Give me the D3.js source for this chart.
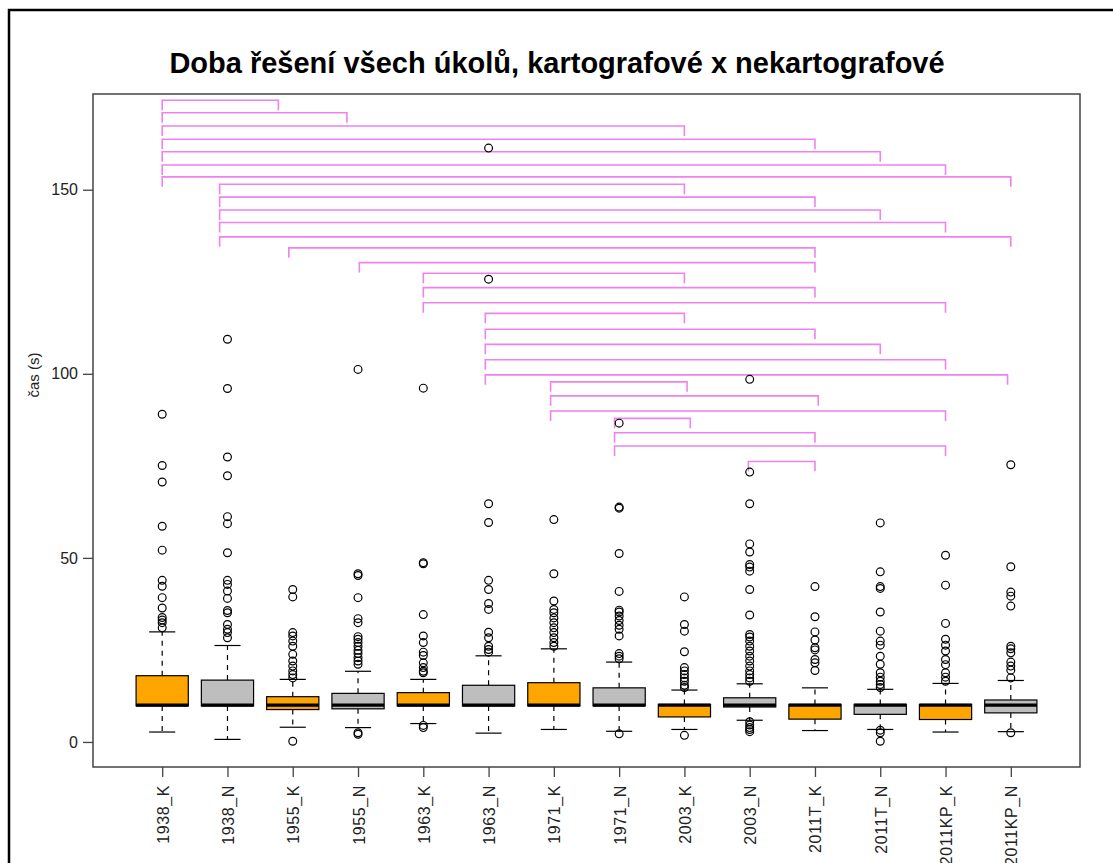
<!DOCTYPE html>
<html>
<head>
<meta charset="utf-8">
<script src="https://cdn.jsdelivr.net/npm/d3@7"></script>
<style>
  body { margin: 0; background: #fff; }
  svg { display: block; }
  text { font-family: "Liberation Sans", Arial, Helvetica, sans-serif; }
</style>
</head>
<body>
<svg id="chart" width="1113" height="863"></svg>
<script>
// Solving time per map (K = cartographers, N = non-cartographers)
const categories = ["1938_K","1938_N","1955_K","1955_N","1963_K","1963_N","1971_K","1971_N",
                    "2003_K","2003_N","2011T_K","2011T_N","2011KP_K","2011KP_N"];
const groupType = ["K","N","K","N","K","N","K","N","K","N","K","N","K","N"];

// five-number summaries (seconds)
const whiskerLow  = [2.7, 0.7, 4.0, 3.9, 5.0, 2.4, 3.4, 2.9, 3.4, 5.9, 3.1, 3.4, 2.7, 2.8];
const quart1      = [9.8, 9.8, 8.8, 9.0, 9.8, 9.8, 9.8, 9.8, 6.8, 9.5, 6.2, 7.5, 6.1, 7.9];
const medians     = [10.0,10.0,10.0,10.0,10.0,10.0,10.0,10.0,10.0,10.0,10.0,10.0,10.0,10.0];
const quart3      = [18.0,16.8,12.3,13.2,13.4,15.4,16.1,14.7,10.2,12.0,10.2,10.2,10.2,11.4];
const whiskerHigh = [29.9,26.2,17.0,19.2,17.0,23.4,25.3,21.7,14.1,15.8,14.7,14.3,15.9,16.7];

// values beyond the whiskers
const outliers = [
  [89.0,75.1,70.6,58.6,52.1,43.9,42.3,39.2,36.4,33.8,33.1,32.4,31.0],
  [109.4,96.0,77.4,72.3,61.2,59.3,51.4,43.9,42.8,41.0,39.0,35.7,35.1,31.9,30.6,29.7,28.3],
  [41.4,39.4,29.7,28.8,27.4,26.0,23.8,22.0,20.6,19.3,18.3,17.4,0.2],
  [101.2,45.7,45.2,39.2,33.5,32.4,28.6,27.9,27.0,26.0,24.9,24.0,22.9,22.0,21.1,2.5,2.1],
  [96.1,48.7,48.4,34.6,28.8,27.0,24.4,23.5,21.5,20.2,19.2,18.8,4.5,3.9],
  [161.3,125.7,64.7,59.6,43.9,41.4,37.6,36.0,29.8,28.3,26.0,25.1,24.4],
  [60.4,45.7,38.3,36.0,35.1,33.7,32.4,31.0,29.7,28.3,27.0,26.0],
  [86.6,63.8,63.5,51.2,40.9,35.8,35.3,34.2,33.0,31.7,30.6,28.8,24.0,23.3,22.6,2.2],
  [39.4,31.9,30.1,24.5,20.2,19.3,18.3,17.4,16.5,15.4,14.8,1.8],
  [98.5,73.3,64.7,53.8,51.6,48.2,47.5,46.4,41.4,34.5,29.2,28.5,27.4,26.0,24.7,23.3,22.0,20.6,19.3,18.3,17.4,16.5,5.5,4.6,3.9,3.4,2.8],
  [42.2,34.0,29.9,27.7,25.6,25.0,22.4,21.5,19.4],
  [59.5,46.2,42.2,41.7,35.3,30.1,27.4,26.3,23.3,21.1,18.8,17.6,16.5,15.6,14.8,3.2,2.5,0.2],
  [50.7,42.6,32.2,27.9,26.3,24.7,22.4,21.0,18.8,17.6,16.5],
  [75.3,47.6,40.7,39.6,36.9,26.0,25.3,24.2,21.7,20.6,19.5,17.4,2.5]
];

// significance brackets: start/end position (group index, 1-based) and height (s)
const bracketFrom = [1,1,1,1,1,1,1, 1.88,1.88,1.88,1.88,1.88, 2.94, 4.02, 5,5,5,
                     5.95,5.95,5.95,5.95,5.95, 6.95,6.95,6.95, 7.93,7.93,7.93, 9.98];
const bracketTo   = [2.78,3.83,9,11,12,13,14, 9,11,12,13,14, 11, 11, 9,11,13,
                     9,11,12,13,13.95, 9.04,11.05,13, 9.09,11,13, 11];
const bracketY    = [174.3,170.9,167.3,163.7,160.3,156.7,153.5,151.5,148.0,144.5,141.1,137.2,134.2,
                     130.2,127.3,123.4,119.3,116.4,112.1,108.0,103.8,99.7,97.8,94.0,89.9,87.9,84.0,80.4,76.2];
const bracketDrop = 2.7;

const yTicks = [0, 50, 100, 150];
const titleText = "Doba řešení všech úkolů, kartografové x nekartografové";
const yLabel = "čas (s)";
const fillColor = { K: "#FFA500", N: "#BEBEBE" };

const plot = { left: 93, right: 1080, top: 94, bottom: 767 };

const svg = d3.select("#chart");

// page frame
svg.append("path")
  .attr("d", "M9,863 L9,10 L1113,10")
  .attr("fill", "none").attr("stroke", "#000").attr("stroke-width", 2.5);

const x = d3.scalePoint().domain(categories)
  .range([plot.left, plot.right]).padding(1.06);
const xPos = d3.scaleLinear().domain([1, categories.length])
  .range([x(categories[0]), x(categories[categories.length - 1])]);
const y = d3.scaleLinear().domain([-6.8, 176]).range([plot.bottom, plot.top]);

const step = x.step();
const boxW = step * 0.8;
const stapleW = boxW * 0.5;

// title
svg.append("text")
  .attr("x", 557).attr("y", 73)
  .attr("text-anchor", "middle")
  .attr("font-size", 29).attr("font-weight", "bold")
  .attr("fill", "#000")
  .text(titleText);

// brackets
const br = svg.append("g").attr("fill", "none")
  .attr("stroke", "#EE82EE").attr("stroke-width", 1.6);
bracketY.forEach((h, i) => {
  const x0 = xPos(bracketFrom[i]), x1 = xPos(bracketTo[i]);
  br.append("path").attr("d",
    `M${x0},${y(h - bracketDrop)} L${x0},${y(h)} L${x1},${y(h)} L${x1},${y(h - bracketDrop)}`);
});

// boxes
const boxes = svg.append("g");
categories.forEach((c, i) => {
  const cx = x(c);
  const g = boxes.append("g");
  // whiskers
  g.append("line").attr("x1", cx).attr("x2", cx)
    .attr("y1", y(quart3[i])).attr("y2", y(whiskerHigh[i]))
    .attr("stroke", "#000").attr("stroke-width", 1.2).attr("stroke-dasharray", "5,5");
  g.append("line").attr("x1", cx).attr("x2", cx)
    .attr("y1", y(quart1[i])).attr("y2", y(whiskerLow[i]))
    .attr("stroke", "#000").attr("stroke-width", 1.2).attr("stroke-dasharray", "5,5");
  // staples
  [whiskerHigh[i], whiskerLow[i]].forEach(v => {
    g.append("line").attr("x1", cx - stapleW / 2).attr("x2", cx + stapleW / 2)
      .attr("y1", y(v)).attr("y2", y(v))
      .attr("stroke", "#000").attr("stroke-width", 1.2);
  });
  // box
  g.append("rect")
    .attr("x", cx - boxW / 2).attr("width", boxW)
    .attr("y", y(quart3[i])).attr("height", y(quart1[i]) - y(quart3[i]))
    .attr("fill", fillColor[groupType[i]])
    .attr("stroke", "#000").attr("stroke-width", 1.2);
  // median
  g.append("line").attr("x1", cx - boxW / 2).attr("x2", cx + boxW / 2)
    .attr("y1", y(medians[i])).attr("y2", y(medians[i]))
    .attr("stroke", "#000").attr("stroke-width", 3.2);
  // outliers
  g.selectAll("circle").data(outliers[i]).join("circle")
    .attr("cx", cx).attr("cy", d => y(d)).attr("r", 3.9)
    .attr("fill", "none").attr("stroke", "#000").attr("stroke-width", 1.2);
});

// frame
svg.append("rect")
  .attr("x", plot.left).attr("y", plot.top)
  .attr("width", plot.right - plot.left).attr("height", plot.bottom - plot.top)
  .attr("fill", "none").attr("stroke", "#444").attr("stroke-width", 1.5);

// axes
const yAxis = svg.append("g")
  .attr("transform", `translate(${plot.left},0)`)
  .call(d3.axisLeft(y).tickValues(yTicks).tickSize(10).tickPadding(5));
yAxis.select(".domain").remove();
yAxis.selectAll(".tick line").attr("stroke", "#444").attr("stroke-width", 1.3);
yAxis.selectAll(".tick text").attr("font-size", 16).attr("fill", "#222")
  .attr("font-family", "Liberation Sans, Arial, sans-serif");

const xAxis = svg.append("g")
  .attr("transform", `translate(0,${plot.bottom})`)
  .call(d3.axisBottom(x).tickSize(10).tickPadding(0));
xAxis.select(".domain").remove();
xAxis.selectAll(".tick line").attr("stroke", "#444").attr("stroke-width", 1.3);
xAxis.selectAll(".tick text")
  .attr("font-size", 16).attr("fill", "#222")
  .attr("letter-spacing", 0.6)
  .attr("font-family", "Liberation Sans, Arial, sans-serif")
  .attr("text-anchor", "end")
  .attr("dy", null)
  .attr("transform", "translate(6,18) rotate(-90)")
  .attr("x", 0).attr("y", 0);

// y axis title
svg.append("text")
  .attr("transform", "translate(39,375) rotate(-90)")
  .attr("text-anchor", "middle")
  .attr("font-size", 15).attr("fill", "#222")
  .text(yLabel);
</script>
</body>
</html>
